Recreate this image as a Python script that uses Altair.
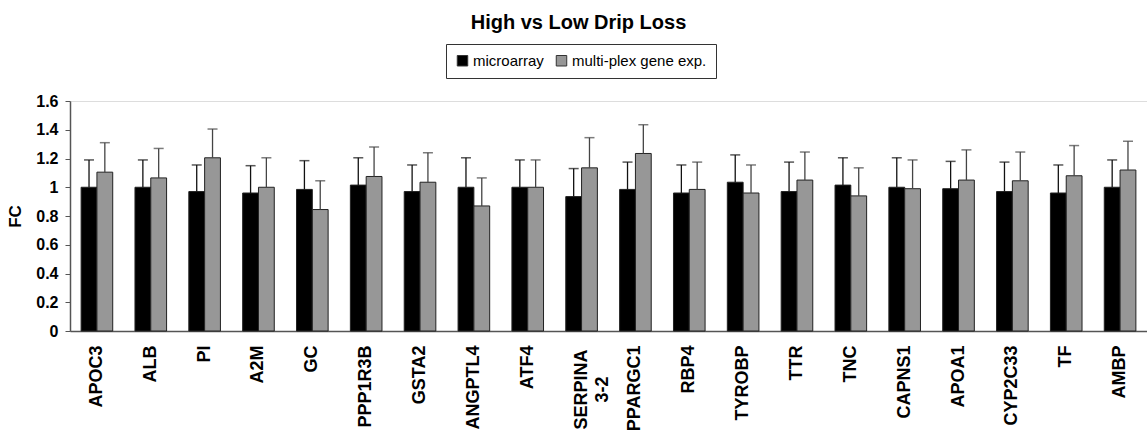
import altair as alt
import pandas as pd

genes = ["APOC3", "ALB", "PI", "A2M", "GC", "PPP1R3B", "GSTA2", "ANGPTL4", "ATF4",
         "SERPINA 3-2", "PPARGC1", "RBP4", "TYROBP", "TTR", "TNC", "CAPNS1", "APOA1",
         "CYP2C33", "TF", "AMBP"]
series = ["microarray", "multi-plex gene exp."]

# fold change per gene
fc_microarray = [1.00, 1.00, 0.97, 0.96, 0.985, 1.015, 0.97, 1.00, 1.00, 0.935,
                 0.985, 0.96, 1.035, 0.97, 1.015, 1.00, 0.99, 0.97, 0.96, 1.00]
fc_multiplex = [1.105, 1.065, 1.205, 1.00, 0.845, 1.075, 1.035, 0.87, 1.00, 1.135,
                1.235, 0.985, 0.96, 1.05, 0.94, 0.99, 1.05, 1.045, 1.08, 1.12]
# top of each error bar
top_microarray = [1.19, 1.19, 1.155, 1.15, 1.185, 1.205, 1.155, 1.205, 1.19, 1.13,
                  1.175, 1.155, 1.225, 1.175, 1.205, 1.205, 1.18, 1.175, 1.155, 1.19]
top_multiplex = [1.31, 1.27, 1.405, 1.205, 1.045, 1.28, 1.24, 1.065, 1.19, 1.345,
                 1.435, 1.175, 1.155, 1.245, 1.135, 1.19, 1.26, 1.245, 1.29, 1.32]
y_ticks = [0, 0.2, 0.4, 0.6, 0.8, 1.0, 1.2, 1.4, 1.6]

rows = []
for i, g in enumerate(genes):
    rows.append({"gene": g, "series": series[0], "fc": fc_microarray[i], "top": top_microarray[i]})
    rows.append({"gene": g, "series": series[1], "fc": fc_multiplex[i], "top": top_multiplex[i]})
df = pd.DataFrame(rows)

FONT = "Liberation Sans"

x_axis = alt.Axis(
    labelAngle=-90, labelFont=FONT, labelFontWeight="bold", labelFontSize=18,
    labelColor="black", labelExpr="split(datum.label, ' ')", labelLineHeight=21,
    labelAlign={"condition": {"test": "datum.value == 'SERPINA 3-2'", "value": "center"}, "value": "right"},
    labelPadding={"condition": {"test": "datum.value == 'SERPINA 3-2'", "value": 58}, "value": 14},
    ticks=False, domainColor="#555555", domainWidth=1.5, labelOverlap=False,
)
y_axis = alt.Axis(
    values=y_ticks, tickCount=9, labelExpr="format(datum.value, '~g')", labelOverlap=False,
    labelBound=False, labelFlush=False,
    grid=False, labelFont=FONT, labelFontWeight="bold", labelFontSize=16,
    labelColor="black", labelPadding=7, tickSize=5, tickColor="#555555",
    domainColor="#555555", domainWidth=1.5,
    titleFont=FONT, titleFontWeight="bold", titleFontSize=17, titleColor="black",
    titlePadding=11,
)

x_scale = alt.Scale(paddingInner=0.413, paddingOuter=0.2065)
y_scale = alt.Scale(domain=[0, 1.6], nice=False)
off_enc = alt.XOffset("series:N", sort=series, scale=alt.Scale(paddingInner=0, paddingOuter=0))

base = alt.Chart(df).encode(
    x=alt.X("gene:N", sort=genes, title=None, scale=x_scale, axis=x_axis),
    xOffset=off_enc,
)

color_scale = alt.Scale(domain=series, range=["#000000", "#979797"])

bars = base.mark_bar(stroke="#222222", strokeWidth=1).encode(
    y=alt.Y("fc:Q", scale=y_scale, title="FC", axis=y_axis),
    color=alt.Color(
        "series:N", scale=color_scale, sort=series, title=None,
        legend=alt.Legend(
            orient="none", legendX=376, legendY=-57, direction="horizontal",
            symbolType="square", symbolSize=110, symbolStrokeColor="#333333",
            symbolStrokeWidth=1, labelFont=FONT, labelFontSize=15, labelColor="black",
            labelOffset=3, columnPadding=10, padding=9, strokeColor="#333333",
            fillColor="white", labelLimit=300,
        ),
    ),
)

# error bars: upward rule plus a short cap at the top
err_color = alt.Scale(domain=series, range=["#111111", "#444444"])

rules = base.mark_rule(strokeWidth=1.3).encode(
    y=alt.Y("fc:Q", scale=y_scale, title="FC", axis=y_axis),
    y2="top:Q",
    stroke=alt.Stroke("series:N", scale=err_color, legend=None),
)

caps = base.mark_tick(size=10, thickness=1.5).encode(
    y=alt.Y("top:Q", scale=y_scale, title="FC", axis=y_axis),
    color=alt.Color("series:N", scale=err_color, legend=None),
)

chart = alt.layer(bars, rules, caps).resolve_scale(color="independent").properties(
    width=1077,
    height=230,
    autosize=alt.AutoSizeParams(type="none"),
    padding={"left": 70, "top": 101, "right": 0, "bottom": 110},
    title=alt.TitleParams(
        "High vs Low Drip Loss", font=FONT, fontSize=20, fontWeight="bold",
        color="black", anchor="middle", dx=-30, offset=11,
    ),
).configure_view(stroke=None).configure(background="white")

chart.save("out.html", embed_options={"renderer": "svg", "actions": False})
